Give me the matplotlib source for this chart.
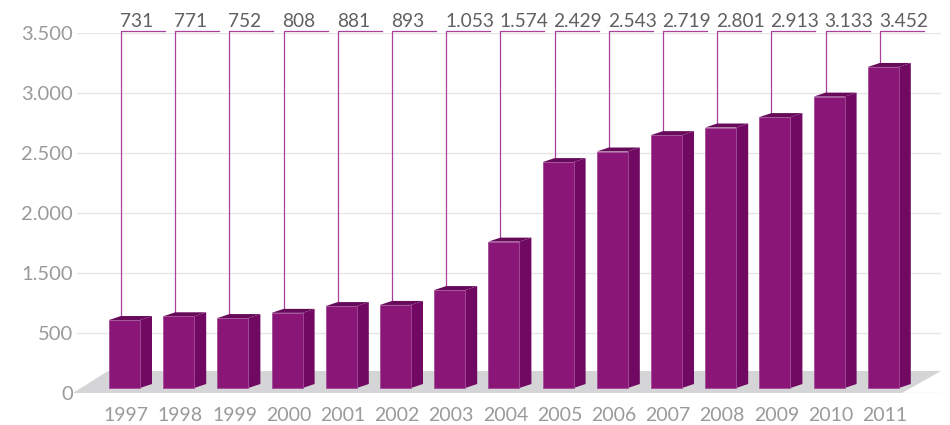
import numpy as np
import matplotlib.pyplot as plt
from matplotlib.patches import Polygon

plt.rcParams['font.family'] = ['Lato', 'DejaVu Sans']

# Data
years = ['1997', '1998', '1999', '2000', '2001', '2002', '2003', '2004',
         '2005', '2006', '2007', '2008', '2009', '2010', '2011']
values = [731, 771, 752, 808, 881, 893, 1053, 1574,
          2429, 2543, 2719, 2801, 2913, 3133, 3452]
ytick_labels = ['0', '500', '1.500', '2.000', '2.500', '3.000', '3.500']

# Geometry (pixels)
W, H = 950, 425
x0_px, step_px = 124.5, 54.2      # centre of first front face, bar spacing
base_px, k = 388.0, 0.093         # bar bottom (from top), px per unit
bar_w = 31 / step_px
ddx, ddy = 12 / step_px, 4 / k    # 3d depth in data units

c_front = '#8a1778'
c_side = '#710862'
c_top = '#680a5a'
c_edge = '#a24c98'
c_lead = '#a9409f'
c_floor = '#d5d5d7'


def py(p):
    # pixel row (from top) -> data y
    return (base_px - p) / k


def px(p):
    return (p - x0_px) / step_px


fig = plt.figure(figsize=(W / 100, H / 100), dpi=100)

# grid axes
gax = fig.add_axes([77 / W, (H - 393) / H, (941 - 77) / W, 360 / H])
gax.set_ylim(0, 6)
gax.set_xlim(0, 1)
gax.set_yticks(range(7))
gax.set_yticklabels(ytick_labels, fontsize=14.5, color='#9a9a9a')
gax.tick_params(axis='y', length=0, pad=3)
gax.set_xticks([])
gax.grid(axis='y', color='#e6e6e6', lw=1)
for s in gax.spines.values():
    s.set_visible(False)
gax.patch.set_alpha(0)

# bars axes
ax = fig.add_axes([0, 0, 1, 1])
ax.set_xlim(px(0), px(W))
ax.set_ylim(py(H), py(0))
ax.axis('off')
ax.patch.set_alpha(0)

# floor
fl = [(px(73), py(393)), (px(902), py(393)), (px(941), py(371)), (px(108), py(371))]
ax.add_patch(Polygon(fl, closed=True, fc=c_floor, ec='none', zorder=1))

top_y = py(31)
for i, (yr, v) in enumerate(zip(years, values)):
    l, r = i - bar_w / 2, i + bar_w / 2
    side = [(r, 0), (r + ddx, ddy), (r + ddx, v + ddy), (r, v)]
    top = [(l, v), (r, v), (r + ddx, v + ddy), (l + ddx, v + ddy)]
    ax.add_patch(Polygon(side, closed=True, fc=c_side, ec='none', zorder=2))
    ax.add_patch(Polygon(top, closed=True, fc=c_top, ec='none', zorder=2))
    ax.add_patch(Polygon([(l, 0), (r, 0), (r, v), (l, v)], closed=True,
                         fc=c_front, ec=c_edge, lw=0.6, zorder=3))

    # leader line and label
    lx = l + ddx
    ax.plot([lx, lx, lx + 44 / step_px], [v + ddy, top_y, top_y],
            color=c_lead, lw=0.9, zorder=1)
    ax.text(lx - 1 / step_px, py(27), f'{v:,}'.replace(',', '.'),
            ha='left', va='baseline', fontsize=13.8, color='#606060')

    ax.text(i + 0.03, py(415.5), yr, ha='center', va='center',
            fontsize=14, color='#9a9a9a')

fig.savefig('out.png', dpi=100)
